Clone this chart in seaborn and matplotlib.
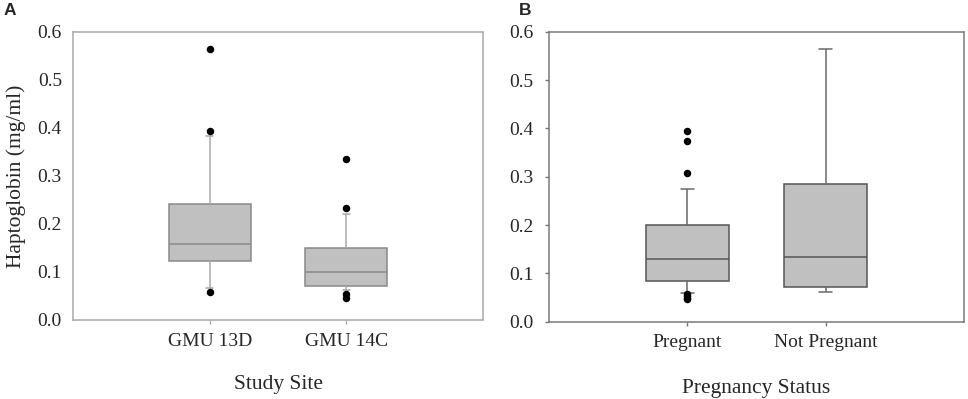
import numpy as np
import pandas as pd
import matplotlib
matplotlib.use("Agg")
import matplotlib.pyplot as plt
import seaborn as sns

# ---- data (box summary: low whisker, Q1, median, Q3, high whisker) ----
site_labels = ["GMU 13D", "GMU 14C"]
gmu13d_stats = [0.066, 0.123, 0.158, 0.242, 0.383]
gmu14c_stats = [0.062, 0.070, 0.101, 0.149, 0.221]
gmu13d_outliers = [0.565, 0.394, 0.059]
gmu14c_outliers = [0.335, 0.233, 0.054, 0.045]

preg_labels = ["Pregnant", "Not Pregnant"]
pregnant_stats = [0.060, 0.085, 0.129, 0.200, 0.275]
not_pregnant_stats = [0.0615, 0.071, 0.1345, 0.2855, 0.564]
pregnant_outliers = [0.394, 0.374, 0.307, 0.057, 0.053, 0.049, 0.046]
not_pregnant_outliers = []

y_ticks = [0.0, 0.1, 0.2, 0.3, 0.4, 0.5, 0.6]
y_ticklabels = ["0.0", "0.1", "0.2", "0.3", "0.4", "0.5", "0.6"]

sns.set_theme(style="white")
plt.rcParams["font.family"] = ["Liberation Serif", "DejaVu Serif"]

fig = plt.figure(figsize=(9.68, 3.99), dpi=100)
axA = fig.add_axes([73 / 968, 1 - 320 / 399, (483 - 73) / 968, (320 - 32) / 399])
axB = fig.add_axes([549 / 968, 1 - 321.7 / 399, (964 - 549) / 968, (321.7 - 31.7) / 399])


def make_frames(labels, stats, outliers):
    box_rows = []
    out_rows = []
    for lab, s, o in zip(labels, stats, outliers):
        box_rows += [(lab, v) for v in s]
        out_rows += [(lab, v) for v in o]
    return (pd.DataFrame(box_rows, columns=["group", "value"]),
            pd.DataFrame(out_rows, columns=["group", "value"]))


def draw_panel(ax, labels, stats, outliers, edge, whisk, spine, capw, ytick_len):
    box_df, out_df = make_frames(labels, stats, outliers)
    sns.boxplot(data=box_df, x="group", y="value", order=labels, ax=ax,
                color="#c0c0c0", saturation=1, width=0.6, whis=(0, 100),
                linecolor=edge, linewidth=1.1, showfliers=False,
                whiskerprops=dict(color=whisk, linewidth=1.1),
                capprops=dict(color=whisk, linewidth=1.1),
                medianprops=dict(color=edge, linewidth=1.1),
                capwidths=capw)
    if len(out_df):
        sns.stripplot(data=out_df, x="group", y="value", order=labels, ax=ax,
                      jitter=False, color="black", size=5.4, linewidth=0,
                      zorder=5)
    ax.set_xlim(-1, 2)
    ax.set_ylim(0, 0.6)
    ax.set_yticks(y_ticks)
    ax.set_yticklabels(y_ticklabels)
    for s in ax.spines.values():
        s.set_visible(True)
        s.set_color(spine)
        s.set_linewidth(1.1)
    ax.tick_params(axis="x", length=3, width=1, color=spine, direction="out",
                   labelsize=14, pad=6, bottom=True)
    ax.tick_params(axis="y", length=ytick_len, width=1, color=spine, direction="out",
                   labelsize=14, pad=8, left=ytick_len > 0)
    ax.grid(False)


draw_panel(axA, site_labels, [gmu13d_stats, gmu14c_stats],
           [gmu13d_outliers, gmu14c_outliers],
           edge="#8a8a8a", whisk="#a8a8a8", spine="#a8a8a8", capw=0.05, ytick_len=0)
draw_panel(axB, preg_labels, [pregnant_stats, not_pregnant_stats],
           [pregnant_outliers, not_pregnant_outliers],
           edge="#555555", whisk="#6a6a6a", spine="#7a7a7a", capw=0.09, ytick_len=3)

axA.set_xlabel("Study Site", fontsize=15.5, labelpad=18)
axA.set_ylabel("Haptoglobin (mg/ml)", fontsize=15.5, labelpad=8)
axB.set_xlabel("Pregnancy Status", fontsize=15.5, labelpad=20)
axB.set_ylabel("")

fig.text(4 / 968, 1 - 3 / 399, "A", fontsize=12.5, fontweight="bold",
         family="Liberation Sans", va="top", ha="left")
fig.text(519 / 968, 1 - 3 / 399, "B", fontsize=12.5, fontweight="bold",
         family="Liberation Sans", va="top", ha="left")

fig.savefig("out.png", dpi=100)
